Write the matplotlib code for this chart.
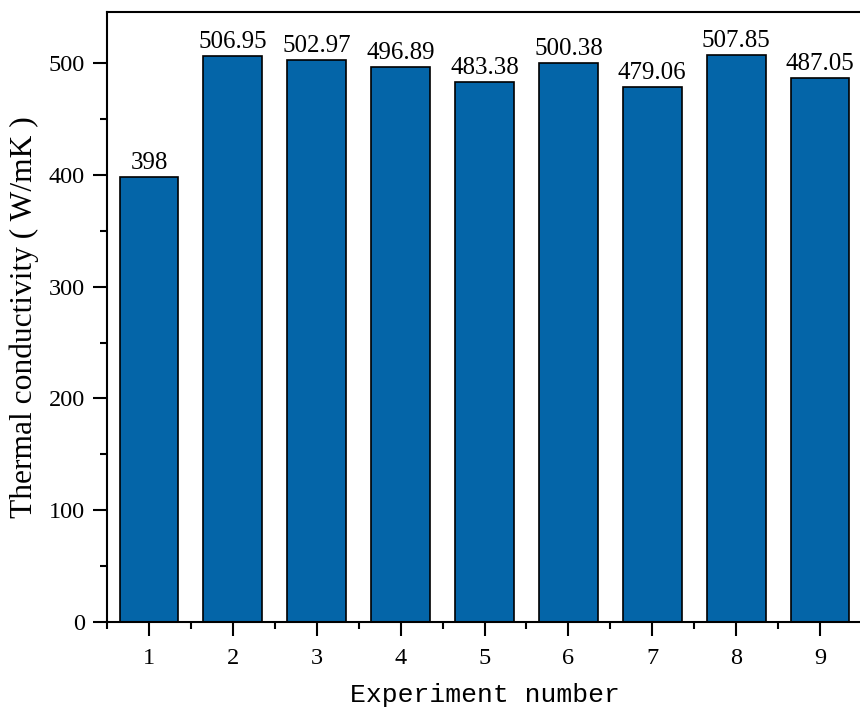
import matplotlib
matplotlib.use("Agg")
import matplotlib.pyplot as plt
from matplotlib.ticker import MultipleLocator

experiments = [1, 2, 3, 4, 5, 6, 7, 8, 9]
conductivity = [398, 506.95, 502.97, 496.89, 483.38, 500.38, 479.06, 507.85, 487.05]
labels = ["398", "506.95", "502.97", "496.89", "483.38", "500.38", "479.06", "507.85", "487.05"]

plt.rcParams['font.family'] = ['Liberation Serif', 'DejaVu Serif']

fig = plt.figure(figsize=(8.6, 7.11), dpi=100)
ax = fig.add_axes([107/860, 1 - 621.7/711, 755/860, (621.7 - 12)/711])

bars = ax.bar(experiments, conductivity, width=0.7, color='#0465A8',
              edgecolor='black', linewidth=1.2, zorder=2)
ax.bar_label(bars, labels=labels, padding=2, fontsize=18)

ax.set_xlim(0.5, 9.5)
ax.set_ylim(0, 546)
ax.set_xticks(experiments)
ax.xaxis.set_minor_locator(MultipleLocator(0.5))
ax.yaxis.set_major_locator(MultipleLocator(100))
ax.yaxis.set_minor_locator(MultipleLocator(50))

ax.tick_params(axis='both', which='major', direction='out', length=10, width=1.5,
               labelsize=17.5, pad=6)
ax.tick_params(axis='x', which='major', pad=9)
ax.tick_params(axis='both', which='minor', direction='out', length=5, width=1.5)

for s in ['left', 'bottom', 'top', 'right']:
    ax.spines[s].set_linewidth(1.5)

ax.set_ylabel("Thermal conductivity ( W/mK )", fontsize=22.7, labelpad=7)
ax.set_xlabel("Experiment number", fontsize=19, family=['Liberation Mono'], labelpad=10)

fig.savefig("out.png", dpi=100)
